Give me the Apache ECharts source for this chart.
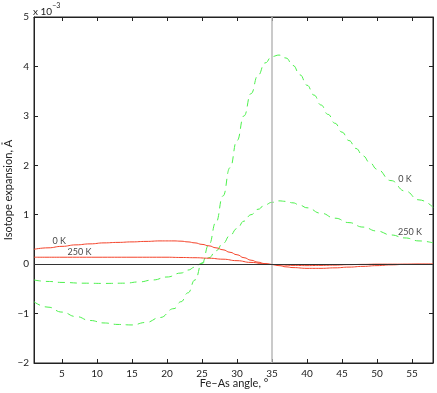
<!DOCTYPE html>
<html>
<head>
<meta charset="utf-8">
<script src="https://cdn.jsdelivr.net/npm/echarts@6/dist/echarts.min.js"></script>
<style>
  html, body { margin: 0; padding: 0; background: #fff; }
  #chart { width: 437px; height: 393px; }
</style>
</head>
<body>
<div id="chart"></div>
<script>
// tick values
const xTicks = [5, 10, 15, 20, 25, 30, 35, 40, 45, 50, 55];

// green dashed, 0 K
const g0Angle = [1, 3, 5, 7, 9, 11, 13, 15, 17, 19, 21, 22, 23, 24, 25, 26, 27, 28, 29, 30, 31, 32, 33, 34, 35, 36, 37, 38, 39, 40, 41, 42, 43, 44, 45, 46, 47, 48, 49, 50, 52, 54, 56, 58];
const g0Value = [-0.76, -0.87, -0.97, -1.06, -1.14, -1.19, -1.22, -1.23, -1.18, -1.08, -0.9, -0.76, -0.58, -0.32, 0.02, 0.4, 0.85, 1.38, 1.95, 2.5, 3.0, 3.45, 3.82, 4.07, 4.2, 4.23, 4.17, 4.02, 3.83, 3.62, 3.42, 3.22, 3.03, 2.85, 2.67, 2.5, 2.34, 2.19, 2.05, 1.92, 1.69, 1.48, 1.3, 1.15];

// green dashed, 250 K
const g250Angle = [1, 3, 5, 8, 11, 14, 16, 18, 20, 22, 23, 24, 25, 26, 27, 28, 29, 30, 31, 32, 33, 34, 35, 36, 37, 38, 39, 40, 42, 44, 46, 48, 50, 52, 54, 56, 58];
const g250Value = [-0.32, -0.35, -0.37, -0.385, -0.39, -0.385, -0.36, -0.32, -0.26, -0.18, -0.12, -0.06, 0.02, 0.13, 0.27, 0.42, 0.58, 0.72, 0.87, 1.0, 1.11, 1.2, 1.25, 1.28, 1.27, 1.24, 1.19, 1.14, 1.03, 0.93, 0.84, 0.75, 0.67, 0.59, 0.53, 0.47, 0.43];

// red solid, 0 K
const r0Angle = [1, 3, 5, 7, 9, 11, 13, 15, 17, 19, 21, 22, 23, 24, 25, 26, 27, 28, 29, 30, 31, 32, 33, 34, 35, 36, 37, 38, 40, 42, 44, 46, 48, 50, 52, 54, 56, 58];
const r0Value = [0.30, 0.33, 0.36, 0.39, 0.41, 0.43, 0.44, 0.45, 0.46, 0.47, 0.47, 0.465, 0.45, 0.43, 0.40, 0.37, 0.33, 0.29, 0.24, 0.19, 0.13, 0.08, 0.04, 0.01, -0.01, -0.03, -0.055, -0.07, -0.085, -0.085, -0.075, -0.06, -0.045, -0.03, -0.015, -0.005, 0, 0];

// red solid, 250 K
const r250Angle = [1, 5, 10, 15, 20, 22, 24, 26, 28, 30, 32, 34, 36, 38, 40, 42, 44, 46, 48, 50, 58];
const r250Value = [0.14, 0.14, 0.14, 0.14, 0.14, 0.135, 0.13, 0.12, 0.10, 0.07, 0.035, 0.005, -0.015, -0.025, -0.03, -0.025, -0.02, -0.01, -0.005, 0, 0];

// curve labels
const labelText = ['0 K', '250 K', '0 K', '250 K'];
const labelAngle = [4.6, 7.5, 54.0, 54.7];
const labelValue = [0.47, 0.24, 1.72, 0.64];

const zip = (xs, ys) => xs.map((x, i) => [x, ys[i]]);
const minus = v => String(v).replace('-', '\u2212');
const font = 'Lato, "Open Sans", sans-serif';
const ink = '#222';

const chart = echarts.init(document.getElementById('chart'));

const lineBase = {
  type: 'line',
  showSymbol: false,
  smooth: 0.5,
  smoothMonotone: 'x',
  silent: true,
};

const frameAxis = {
  axisLine: { onZero: false, lineStyle: { color: ink } },
  axisLabel: { show: false },
  splitLine: { show: false },
};

const option = {
  animation: false,
  grid: {
    left: 34, right: 4, top: 17, bottom: 30,
    outerBoundsMode: 'none',
    containLabel: false,
    show: true, borderColor: ink, borderWidth: 1,
  },
  xAxis: [
    {
      type: 'value', min: 1, max: 58,
      axisLine: { onZero: false, lineStyle: { color: ink } },
      axisTick: { inside: true, length: 4, customValues: xTicks, lineStyle: { color: ink } },
      axisLabel: { customValues: xTicks, fontFamily: font, fontSize: 10, color: ink, margin: 6 },
      splitLine: { show: false },
    },
    Object.assign({}, frameAxis, {
      type: 'value', min: 1, max: 58, position: 'top',
      axisTick: { inside: true, length: 4, customValues: xTicks, lineStyle: { color: ink } },
    }),
  ],
  yAxis: [
    {
      type: 'value', min: -2, max: 5, interval: 1,
      axisLine: { onZero: false, lineStyle: { color: ink } },
      axisTick: { inside: true, length: 4, lineStyle: { color: ink } },
      axisLabel: { formatter: minus, fontFamily: font, fontSize: 10, color: ink, margin: 5 },
      splitLine: { show: false },
    },
    Object.assign({}, frameAxis, {
      type: 'value', min: -2, max: 5, interval: 1, position: 'right',
      axisTick: { inside: true, length: 4, lineStyle: { color: ink } },
    }),
  ],
  graphic: [
    {
      type: 'text', left: 33, top: 2,
      style: {
        text: '{b|x 10}{s|\u22123}',
        rich: {
          b: { fontFamily: font, fontSize: 10, fill: ink, padding: [5, 0, 0, 0] },
          s: { fontFamily: font, fontSize: 7, fill: ink, verticalAlign: 'top' },
        },
      },
    },
    {
      type: 'text', x: 8, y: 190, rotation: Math.PI / 2,
      style: {
        text: 'Isotope expansion, \u00c5',
        fontFamily: font, fontSize: 11, fill: ink,
        align: 'center', verticalAlign: 'middle',
      },
    },
    {
      type: 'text', x: 234, y: 383,
      style: {
        text: 'Fe\u2013As angle, \u00b0',
        fontFamily: font, fontSize: 11, fill: ink,
        align: 'center', verticalAlign: 'middle',
      },
    },
  ],
  series: [
    {
      type: 'line', data: [], silent: true,
      markLine: {
        symbol: 'none', silent: true, label: { show: false }, animation: false,
        data: [
          { xAxis: 35, lineStyle: { color: '#b8b8b8', width: 1.5, type: 'solid' } },
          { yAxis: 0, lineStyle: { color: '#333', width: 1, type: 'solid' } },
        ],
      },
    },
    Object.assign({}, lineBase, {
      name: 'g0', data: zip(g0Angle, g0Value),
      lineStyle: { color: '#4cf04c', width: 1, type: [7, 5] },
    }),
    Object.assign({}, lineBase, {
      name: 'g250', data: zip(g250Angle, g250Value),
      lineStyle: { color: '#4cf04c', width: 1, type: [7, 5] },
    }),
    Object.assign({}, lineBase, {
      name: 'r250', data: zip(r250Angle, r250Value),
      lineStyle: { color: '#f4432a', width: 1 },
    }),
    Object.assign({}, lineBase, {
      name: 'r0', data: zip(r0Angle, r0Value),
      lineStyle: { color: '#f4432a', width: 1 },
    }),
    {
      type: 'scatter', symbolSize: 0, silent: true,
      data: labelAngle.map((x, i) => ({ value: [x, labelValue[i]], name: labelText[i] })),
      label: {
        show: true, position: 'inside', formatter: p => p.name,
        fontFamily: font, fontSize: 9, color: '#111',
      },
    },
  ],
};

chart.setOption(option);
</script>
</body>
</html>
